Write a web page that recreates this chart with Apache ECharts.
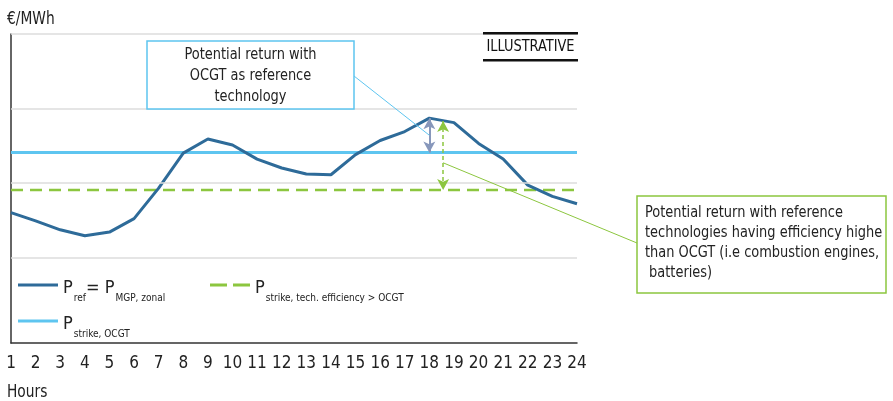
<!DOCTYPE html>
<html><head><meta charset="utf-8">
<script src="https://cdn.jsdelivr.net/npm/echarts@6/dist/echarts.min.js"></script>
<style>html,body{margin:0;padding:0;background:#fff}#c{width:893px;height:401px}</style>
</head><body><div id="c"></div>
<script>
const FONT = '"Liberation Sans Narrow", "DejaVu Sans Condensed", sans-serif';
const hours = [1,2,3,4,5,6,7,8,9,10,11,12,13,14,15,16,17,18,19,20,21,22,23,24];
const priceRef = [1.60,1.49,1.37,1.29,1.34,1.52,1.93,2.40,2.59,2.51,2.32,2.20,2.12,2.11,2.38,2.57,2.69,2.87,2.81,2.53,2.32,1.97,1.82,1.72];
const strikeOCGT = 2.41;
const strikeTech = 1.905;
const gridLevels = [1,2,3,4];
const arrowOCGT = {x:18, top:2.87, bottom:strikeOCGT};
const arrowTech = {x:18.56, top:2.83, bottom:strikeTech};

const chart = echarts.init(document.getElementById('c'), null, {renderer:'canvas'});
const C_REF='#2e6b99', C_OCGT='#5ec5f0', C_TECH='#8cc63f', C_ARROW='#8797bb';
const SX = 0.9;

const legendRich = {
  m:{fontSize:18, color:'#222', fontFamily:FONT, lineHeight:24, verticalAlign:'bottom'},
  s:{fontSize:10, color:'#222', fontFamily:FONT, lineHeight:24, verticalAlign:'bottom', padding:[0,0,-6,1]}
};
const legendFmt = n => n==='Pref' ? '{m|P}{s|ref}{m|= P}{s|MGP, zonal}'
  : n==='PstrikeOCGT' ? '{m|P}{s|strike, OCGT}' : '{m|P}{s|strike, tech. efficiency > OCGT}';
const ICON_SOLID = 'path://M0,0h40v3h-40z';
const ICON_DASH = 'path://M0,0h17v3h-17z M23,0h17v3h-17z';

chart.setOption({
  animation:false,
  textStyle:{fontFamily:FONT},
  grid:{left:11,right:316,top:34,bottom:58},
  xAxis:{type:'value',min:1,max:24,interval:1,
    axisLine:{show:true,onZero:false,lineStyle:{color:'#333',width:1.5}},
    axisTick:{show:false},splitLine:{show:false},
    axisLabel:{fontSize:17,color:'#222',margin:12,fontFamily:FONT}},
  yAxis:{type:'value',min:-0.15,max:4,
    axisLine:{show:true,lineStyle:{color:'#333',width:1.5}},
    axisTick:{show:false},axisLabel:{show:false},splitLine:{show:false}},
  legend:[
    {data:[{name:'Pref',icon:ICON_SOLID},{name:'PstrikeOCGT',icon:ICON_SOLID}],orient:'vertical',left:18,top:279,padding:0,itemWidth:40,itemHeight:14,itemGap:12,
     formatter:legendFmt,textStyle:{rich:legendRich}},
    {data:[{name:'PstrikeTech',icon:ICON_DASH}],orient:'vertical',left:210,top:279,padding:0,itemWidth:40,itemHeight:14,
     formatter:legendFmt,textStyle:{rich:legendRich}}
  ],
  series:[
    {name:'grid',type:'line',data:[],z:0,silent:true,
     markLine:{silent:true,symbol:'none',label:{show:false},lineStyle:{color:'#dcdcdc',width:1.5,type:'solid'},
       data:gridLevels.map(v=>({yAxis:v}))}},
    {name:'PstrikeTech',type:'line',symbol:'none',z:2,color:C_TECH,
     lineStyle:{color:C_TECH,width:2.5,type:[12,7]},
     data:[[hours[0],strikeTech],[hours[hours.length-1],strikeTech]],
     markLine:{silent:true,symbol:['arrow','arrow'],symbolSize:[9,11],label:{show:false},
       lineStyle:{color:C_TECH,width:1.5,type:[4,3]},
       data:[[{coord:[arrowTech.x,arrowTech.top]},{coord:[arrowTech.x,arrowTech.bottom]}]]}},
    {name:'PstrikeOCGT',type:'line',symbol:'none',z:3,color:C_OCGT,
     lineStyle:{color:C_OCGT,width:3},
     data:[[hours[0],strikeOCGT],[hours[hours.length-1],strikeOCGT]],
     markLine:{silent:true,symbol:['arrow','arrow'],symbolSize:[9,11],label:{show:false},
       lineStyle:{color:C_ARROW,width:2,type:'solid'},
       data:[[{coord:[arrowOCGT.x,arrowOCGT.top]},{coord:[arrowOCGT.x,arrowOCGT.bottom]}]]}},
    {name:'Pref',type:'line',symbol:'none',z:4,color:C_REF,
     lineStyle:{color:C_REF,width:3},
     data:hours.map((h,i)=>[h,priceRef[i]])}
  ]
});

const a1 = chart.convertToPixel({xAxisIndex:0,yAxisIndex:0},[arrowOCGT.x,(arrowOCGT.top+arrowOCGT.bottom)/2]);
const a2 = chart.convertToPixel({xAxisIndex:0,yAxisIndex:0},[arrowTech.x,2.27]);
const box1Lines = ['Potential return with','OCGT as reference','technology'];
const box2Lines = ['Potential return with reference','technologies having efficiency highe','than OCGT (i.e combustion engines,',' batteries)'];
const txt = (x,y,text,opt) => Object.assign({type:'text',x:x,y:y,scaleX:SX,z:12,
  style:Object.assign({text:text,fontSize:17,fill:'#222',fontFamily:FONT},opt||{})});
chart.setOption({graphic:[
  txt(7,11,'€/MWh'),
  txt(7,384,'Hours'),
  {type:'rect',shape:{x:483,y:32,width:95,height:2.5},style:{fill:'#111'},z:10},
  {type:'rect',shape:{x:483,y:59,width:95,height:2.5},style:{fill:'#111'},z:10},
  txt(530.5,47,'ILLUSTRATIVE',{fontSize:16,fill:'#111',align:'center',verticalAlign:'middle'}),
  {type:'line',shape:{x1:354,y1:76,x2:a1[0],y2:a1[1]},style:{stroke:C_OCGT,lineWidth:1},z:10},
  {type:'line',shape:{x1:a2[0],y1:a2[1],x2:637,y2:243},style:{stroke:C_TECH,lineWidth:1},z:10},
  {type:'rect',shape:{x:147,y:41,width:207,height:68},style:{fill:'#fff',stroke:C_OCGT,lineWidth:1.5},z:11},
  txt(250.5,44,box1Lines.join('\n'),{fontSize:16,lineHeight:21,align:'center',verticalAlign:'top'}),
  {type:'rect',shape:{x:637,y:196,width:249,height:97},style:{fill:'#fff',stroke:C_TECH,lineWidth:1.5},z:11},
  txt(645,203,box2Lines.join('\n'),{fontSize:16,lineHeight:20,align:'left',verticalAlign:'top'})
]});
</script></body></html>
